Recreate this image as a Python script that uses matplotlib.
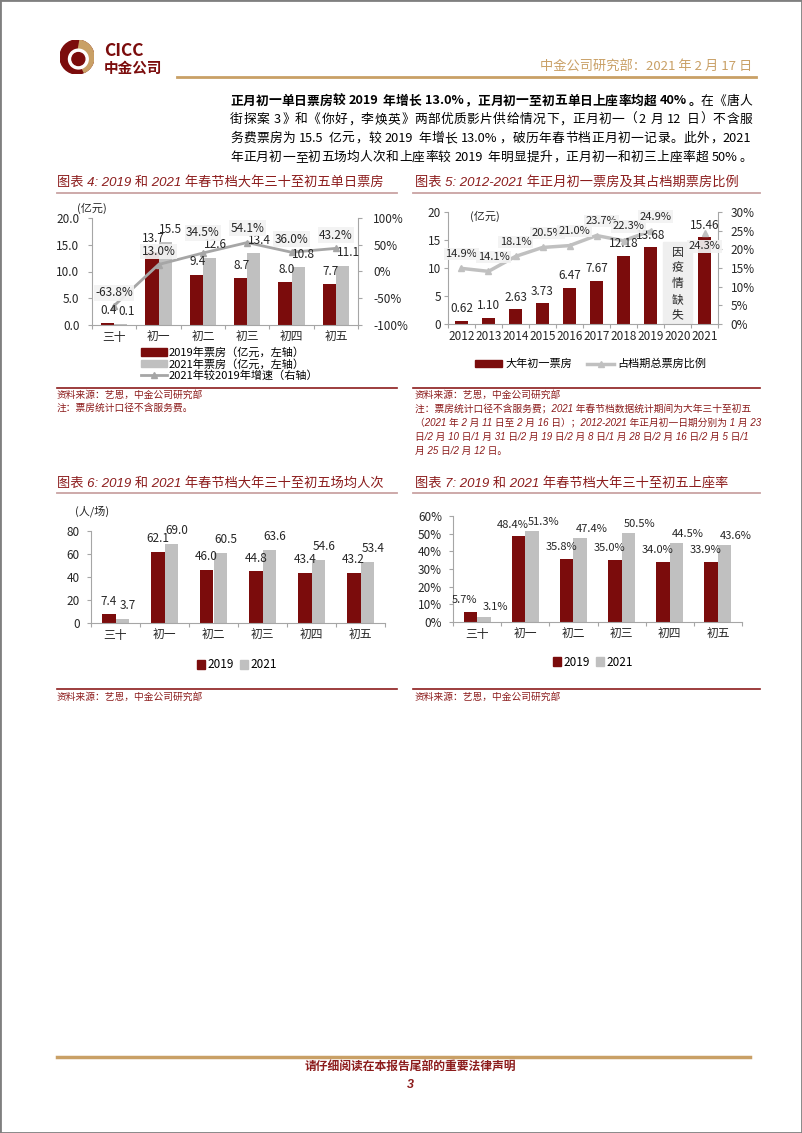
import numpy as np
import matplotlib
matplotlib.use('Agg')
import matplotlib.pyplot as plt
from matplotlib.patches import Rectangle, Wedge, Circle, Patch
from matplotlib.lines import Line2D
from matplotlib.font_manager import FontProperties

plt.rcParams['font.family'] = ['Noto Sans CJK SC', 'DejaVu Sans']
plt.rcParams['axes.unicode_minus'] = False

# ---- data read from the page ----
days = ['三十', '初一', '初二', '初三', '初四', '初五']
box_2019 = [0.4, 13.7, 9.4, 8.7, 8.0, 7.7]
box_2021 = [0.1, 15.5, 12.6, 13.4, 10.8, 11.1]
box_growth = [-63.8, 13.0, 34.5, 54.1, 36.0, 43.2]

years = ['2012', '2013', '2014', '2015', '2016', '2017', '2018', '2019', '2020', '2021']
day1_box = [0.62, 1.10, 2.63, 3.73, 6.47, 7.67, 12.18, 13.68, np.nan, 15.46]
day1_share = [14.9, 14.1, 18.1, 20.5, 21.0, 23.7, 22.3, 24.9, np.nan, 24.3]

audience_2019 = [7.4, 62.1, 46.0, 44.8, 43.4, 43.2]
audience_2021 = [3.7, 69.0, 60.5, 63.6, 54.6, 53.4]

occupancy_2019 = [5.7, 48.4, 35.8, 35.0, 34.0, 33.9]
occupancy_2021 = [3.1, 51.3, 47.4, 50.5, 44.5, 43.6]

RED = '#7B0C0C'
GRAY = '#C0C0C0'
LINEG = '#A6A6A6'
TITLE = '#8C1C1C'
GOLD = '#C9A066'
AXC = '#A6A6A6'
TXT = '#262626'
ITAL = ['Liberation Sans', 'Noto Sans CJK SC']
TICK = 8.5

W, H = 802, 1133
fig = plt.figure(figsize=(W / 100, H / 100), dpi=100)
renderer = fig.canvas.get_renderer()


def fx(x):
    return x / W


def fy(y):
    return 1 - y / H


def add_ax(x0, y0, x1, y1):
    return fig.add_axes([fx(x0), fy(y1), (x1 - x0) / W, (y1 - y0) / H])


def put(x, y, s, **kw):
    kw.setdefault('va', 'center')
    return fig.text(fx(x), fy(y), s, **kw)


def hline(x0, x1, y, color, lw):
    fig.add_artist(Line2D([fx(x0), fx(x1)], [fy(y), fy(y)], color=color, lw=lw))


def text_size(s, size, weight='normal'):
    fp = FontProperties(family='Noto Sans CJK SC', size=size, weight=weight)
    w, h, _ = renderer.get_text_width_height_descent(s, fp, ismath=False)
    return w, h


def justify(x0, x1, y, segments, size):
    # split into tokens: single CJK chars or runs of ascii, spaces become small gaps
    em = size * 100 / 72
    toks = []
    for s, weight in segments:
        buf = ''
        for ch in s:
            if ord(ch) < 128 and ch != ' ':
                buf += ch
                continue
            if buf:
                toks.append([buf, weight, False])
                buf = ''
            if ch == ' ':
                if toks:
                    toks[-1][2] = True
            else:
                toks.append([ch, weight, False])
        if buf:
            toks.append([buf, weight, False])
    widths = []
    for tok, weight, _ in toks:
        if ord(tok[0]) < 128:
            widths.append(text_size(tok, size, weight)[0] + 0.08 * em)
        else:
            widths.append(em)
    spaces = [0.28 * em if sp else 0.0 for _, _, sp in toks]
    natural = sum(widths) + sum(spaces[:-1])
    gap = (x1 - x0 - natural) / (len(toks) - 1)
    xp = x0
    for (tok, weight, _), w, sp in zip(toks, widths, spaces):
        if tok in '，。、；：）》':
            put(xp + 0.05 * em, y, tok, fontsize=size, fontweight=weight, ha='left')
        elif tok in '（《':
            put(xp + w - 0.05 * em, y, tok, fontsize=size, fontweight=weight, ha='right')
        elif ord(tok[0]) < 128:
            put(xp, y, tok, fontsize=size, fontweight=weight, ha='left')
        else:
            put(xp + w / 2, y, tok, fontsize=size, fontweight=weight, ha='center')
        xp += w + sp + gap


def style_axes(ax, ypad):
    ax.spines['top'].set_visible(False)
    ax.spines['right'].set_visible(False)
    for s in ['left', 'bottom']:
        ax.spines[s].set_color(AXC)
        ax.spines[s].set_linewidth(0.8)
    ax.tick_params(axis='y', colors=AXC, labelcolor=TXT, labelsize=TICK, length=3,
                   width=0.8, pad=ypad)
    ax.set_facecolor('none')


def right_axis(ax, pad):
    for s in ['left', 'top', 'bottom']:
        ax.spines[s].set_visible(False)
    ax.spines['right'].set_color(AXC)
    ax.spines['right'].set_linewidth(0.8)
    ax.tick_params(axis='y', colors=AXC, labelcolor=TXT, labelsize=TICK, length=3,
                   width=0.8, pad=pad)


def cat_axis(ax, labels, pad=4.5):
    n = len(labels)
    ax.set_xlim(-0.5, n - 0.5)
    ax.set_xticks(np.arange(-0.5, n, 1))
    ax.set_xticklabels([])
    ax.tick_params(axis='x', which='major', colors=AXC, length=3, width=0.8)
    ax.set_xticks(np.arange(n), labels, minor=True)
    ax.tick_params(axis='x', which='minor', length=0, pad=pad, labelsize=TICK,
                   labelcolor=TXT)


def bar_labels(ax, xs, vals, fmt, dx, dy, size=8.5, xycoords='data'):
    for xi, v in zip(xs, vals):
        if np.isnan(v):
            continue
        ax.annotate(fmt.format(v), (xi, v), xycoords=xycoords, xytext=(dx, dy),
                    textcoords='offset points', ha='center', va='bottom',
                    fontsize=size, color=TXT)


boxkw = dict(boxstyle='square,pad=0.12', fc='#F2F2F2', ec='none', alpha=0.92)

# ---- page frame, header, footer ----
fig.add_artist(Rectangle((0, 0), 1, 1, transform=fig.transFigure, fill=False,
                         ec='#7F7F7F', lw=2))

lax = add_ax(60, 40, 94, 74)
lax.set_xlim(-1, 1)
lax.set_ylim(-1, 1)
lax.set_aspect('equal')
lax.axis('off')
lax.add_patch(Circle((0, 0), 1, color=RED))
lax.add_patch(Wedge((0, 0), 1, -65, 80, color=GOLD))
lax.add_patch(Wedge((0.08, -0.12), 0.58, 0, 360, width=0.2, color='white'))
lax.add_patch(Circle((0.08, -0.12), 0.38, color=RED))

put(104, 51, 'CICC', fontsize=12.5, fontweight='bold', color=RED, family='Noto Sans CJK SC')
put(104, 68, '中金公司', fontsize=10.5, fontweight='bold', color=RED)
put(752, 66, '中金公司研究部：2021 年 2 月 17 日', fontsize=9.5, color=GOLD, ha='right')
hline(177, 756, 77, GOLD, 2)

hline(57, 750, 1057, GOLD, 2.5)
put(410, 1068, '请仔细阅读在本报告尾部的重要法律声明', fontsize=8.5, fontweight='bold',
    style='italic', color=TITLE, ha='center', family=ITAL)
put(410, 1085, '3', fontsize=9, fontweight='bold', style='italic', color=TITLE,
    ha='center', family=ITAL)

# ---- paragraph (justified like the page) ----
para = [[('正月初一单日票房较 2019 年增长 13.0%，正月初一至初五单日上座率均超 40%。', 'bold'),
         ('在《唐人', 'normal')],
        [('街探案 3》和《你好，李焕英》两部优质影片供给情况下，正月初一（2 月 12 日）不含服', 'normal')],
        [('务费票房为 15.5 亿元，较 2019 年增长 13.0%，破历年春节档正月初一记录。此外，2021', 'normal')],
        [('年正月初一至初五场均人次和上座率较 2019 年明显提升，正月初一和初三上座率超 50%。', 'normal')]]
for i, segs in enumerate(para):
    justify(230, 752, 101 + 18.7 * i, segs, 9.2)

# ---- titles, rules and sources ----
titles = [(57, 182, '图表 4: 2019 和 2021 年春节档大年三十至初五单日票房'),
          (415, 182, '图表 5: 2012-2021 年正月初一票房及其占档期票房比例'),
          (57, 483, '图表 6: 2019 和 2021 年春节档大年三十至初五场均人次'),
          (415, 483, '图表 7: 2019 和 2021 年春节档大年三十至初五上座率')]
for x, y, s in titles:
    put(x, y, s, fontsize=9.5, style='italic', color=TITLE, family=ITAL)
for x0, x1 in [(57, 397), (413, 760)]:
    hline(x0, x1, 193, '#C9A3A3', 1.3)
    hline(x0, x1, 493, '#C9A3A3', 1.3)
    hline(x0, x1, 388, TITLE, 1.2)
    hline(x0, x1, 689, TITLE, 1.2)

src = '资料来源：艺恩，中金公司研究部'
srckw = dict(fontsize=7, style='italic', color=TITLE, family=ITAL)
put(57, 395, src, **srckw)
put(57, 408, '注：票房统计口径不含服务费。', **srckw)
put(415, 395, src, **srckw)
notes5 = ['注：票房统计口径不含服务费；2021 年春节档数据统计期间为大年三十至初五',
          '（2021 年 2 月 11 日至 2 月 16 日）；2012-2021 年正月初一日期分别为 1 月 23',
          '日/2 月 10 日/1 月 31 日/2 月 19 日/2 月 8 日/1 月 28 日/2 月 16 日/2 月 5 日/1',
          '月 25 日/2 月 12 日。']
for i, line in enumerate(notes5):
    put(415, 409 + 14 * i, line, **srckw)
put(57, 697, src, **srckw)
put(415, 697, src, **srckw)

# ---- chart 4 ----
ax4 = add_ax(92, 218, 358, 325)
x = np.arange(len(days))
bw = 0.3
ax4.bar(x - bw / 2, box_2019, bw, color=RED, zorder=2)
ax4.bar(x + bw / 2, box_2021, bw, color=GRAY, zorder=2)
ax4.set_ylim(0, 20)
ax4.set_yticks(np.arange(0, 21, 5))
ax4.yaxis.set_major_formatter('{x:.1f}')
style_axes(ax4, 6)
cat_axis(ax4, days)
put(92, 208, '(亿元)', fontsize=8, color=TXT, ha='center')

ax4r = ax4.twinx()
ax4r.plot(x, box_growth, color=LINEG, lw=2, marker='^', ms=5, zorder=3)
ax4r.set_ylim(-100, 100)
ax4r.set_yticks(np.arange(-100, 101, 50))
ax4r.yaxis.set_major_formatter('{x:.0f}%')
right_axis(ax4r, 8)
bar_labels(ax4r, x - bw / 2, box_2019, '{:.1f}', 1, 4.5, xycoords=ax4.transData)
bar_labels(ax4r, x + bw / 2, box_2021, '{:.1f}', 4, 4.5, xycoords=ax4.transData)
# growth labels sit above the point, and above the 2021 bar label when the point is higher
for xi, v, b in zip(x, box_growth, box_2021):
    py = ax4r.transData.transform((xi, v))[1]
    top = ax4.transData.transform((xi, b))[1]
    up = 13.0
    if py > top:
        up = max(up, top + 25 - py)
    ax4r.annotate(f'{v:.1f}%', (xi, v), xytext=(0, up * 0.72), textcoords='offset points',
                  ha='center', va='center', fontsize=8.5, color=TXT, bbox=boxkw)

fig.legend(handles=[Patch(color=RED), Patch(color=GRAY),
                    Line2D([], [], color=LINEG, lw=2, marker='^', ms=5)],
           labels=['2019年票房（亿元，左轴）', '2021年票房（亿元，左轴）',
                   '2021年较2019年增速（右轴）'],
           loc='center left', bbox_to_anchor=(fx(141), fy(364)), frameon=False,
           fontsize=8, handlelength=2.3, handleheight=0.7, handletextpad=0.2,
           labelspacing=0.05, borderpad=0, borderaxespad=0)

# ---- chart 5 ----
ax5 = add_ax(448, 212, 718, 324)
xy = np.arange(len(years))
ax5.bar(xy, day1_box, 0.5, color=RED, zorder=2)
ax5.set_ylim(0, 20)
ax5.set_yticks(np.arange(0, 21, 5))
style_axes(ax5, 2)
cat_axis(ax5, years)
gap = years.index('2020')
ax5.add_patch(Rectangle((gap - 0.52, 0), 1.04, 14.6, color='#EFEFEF', zorder=1))
ax5.text(gap, 7.2, '因\n疫\n情\n缺\n失', ha='center', va='center', fontsize=8.5,
         color=TXT, linespacing=1.25, zorder=2)
ax5.text(0.33, 19.2, '(亿元)', ha='left', va='center', fontsize=8, color=TXT)

ax5r = ax5.twinx()
ax5r.plot(xy, day1_share, color=GRAY, lw=2.5, marker='^', ms=5, zorder=3)
ax5r.set_ylim(0, 30)
ax5r.set_yticks(np.arange(0, 31, 5))
ax5r.yaxis.set_major_formatter('{x:.0f}%')
right_axis(ax5r, 6)
bar_labels(ax5r, xy, day1_box, '{:.2f}', 0, 4, xycoords=ax5.transData)
last = len(years) - 1
prev = None
for xi, v in zip(xy, day1_share):
    if np.isnan(v):
        continue
    lab = f'{v:.1f}%'
    w, h = text_size(lab, 8)
    w += 3
    off = -13 if xi == last else 14.5
    cx, cy = ax5r.transData.transform((xi, v))
    cy += off
    dx = 0.0
    if prev is not None:
        need = (prev[2] + w) / 2 + 1 - (cx - prev[0])
        if need > 0 and abs(cy - prev[1]) < h + 3:
            dx = min(need, 5.0)
    prev = (cx + dx, cy, w)
    ax5r.annotate(lab, (xi, v), xytext=(dx * 0.72, off * 0.72), textcoords='offset points',
                  ha='center', va='center', fontsize=8, color=TXT, bbox=boxkw, zorder=4)

fig.legend(handles=[Patch(color=RED),
                    Line2D([], [], color=GRAY, lw=2.5, marker='^', ms=5)],
           labels=['大年初一票房', '占档期总票房比例'], ncol=2,
           loc='center left', bbox_to_anchor=(fx(475), fy(364)), frameon=False,
           fontsize=8, handlelength=2.4, handleheight=0.6, handletextpad=0.3,
           columnspacing=1.4, borderpad=0, borderaxespad=0)

# ---- chart 6 ----
ax6 = add_ax(91, 531, 385, 623)
bw = 0.28
ax6.bar(x - bw / 2, audience_2019, bw, color=RED, zorder=2)
ax6.bar(x + bw / 2, audience_2021, bw, color=GRAY, zorder=2)
ax6.set_ylim(0, 80)
ax6.set_yticks(np.arange(0, 81, 20))
style_axes(ax6, 5)
cat_axis(ax6, days)
bar_labels(ax6, x - bw / 2, audience_2019, '{:.1f}', 0, 5)
bar_labels(ax6, x + bw / 2, audience_2021, '{:.1f}', 4, 5)
put(75, 511, '(人/场)', fontsize=8, color=TXT)
fig.legend(handles=[Patch(color=RED), Patch(color=GRAY)], labels=['2019', '2021'],
           ncol=2, loc='center left', bbox_to_anchor=(fx(197), fy(665)), frameon=False,
           fontsize=8.5, handlelength=0.7, handleheight=0.7, handletextpad=0.2,
           columnspacing=0.5, borderpad=0, borderaxespad=0)

# ---- chart 7 ----
ax7 = add_ax(453, 516, 742, 622)
ax7.bar(x - bw / 2, occupancy_2019, bw, color=RED, zorder=2)
ax7.bar(x + bw / 2, occupancy_2021, bw, color=GRAY, zorder=2)
ax7.set_ylim(0, 60)
ax7.set_yticks(np.arange(0, 61, 10))
ax7.yaxis.set_major_formatter('{x:.0f}%')
style_axes(ax7, 5)
cat_axis(ax7, days)
bar_labels(ax7, x - bw / 2, occupancy_2019, '{:.1f}%', -4, 5, size=8)
bar_labels(ax7, x + bw / 2, occupancy_2021, '{:.1f}%', 8, 3, size=8)
fig.legend(handles=[Patch(color=RED), Patch(color=GRAY)], labels=['2019', '2021'],
           ncol=2, loc='center left', bbox_to_anchor=(fx(553), fy(662)), frameon=False,
           fontsize=8.5, handlelength=0.7, handleheight=0.7, handletextpad=0.2,
           columnspacing=0.5, borderpad=0, borderaxespad=0)

fig.savefig('out.png', dpi=100)
